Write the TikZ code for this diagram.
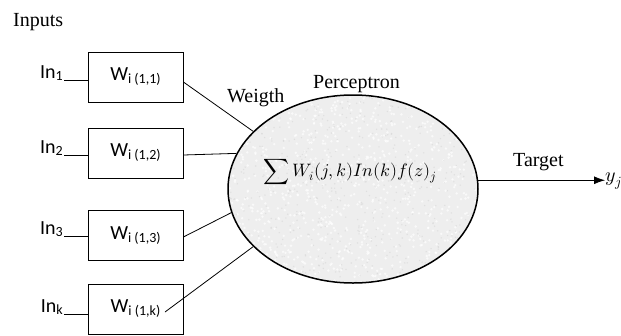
\documentclass[tikz,border=0pt]{standalone}
\usepackage{fontspec}
\usepackage{unicode-math}
\setmainfont{Liberation Serif}
\setmathfont{Latin Modern Math}
\newfontfamily\calib{Carlito}
\usetikzlibrary{shapes.geometric,arrows.meta}
\newcommand\wlab[1]{W\raisebox{-3pt}{\fontsize{14}{14}\selectfont i (1,#1)}}
\newcommand\inlab[1]{In\raisebox{-2.5pt}{\fontsize{14}{14}\selectfont #1}}
\begin{document}
\begin{tikzpicture}[x=1pt,y=-1pt,
  wbox/.style={draw,line width=0.8pt,minimum width=95pt,minimum height=50pt,inner sep=0pt,font=\calib\fontsize{20}{22}\selectfont},
  inlab/.style={inner sep=0pt,anchor=base east,font=\calib\fontsize{20}{22}\selectfont},
  tlab/.style={inner sep=0pt,anchor=base west,font=\fontsize{20}{22}\selectfont},
  conn/.style={line width=0.8pt},
  cell/.style={ellipse,draw,line width=1.5pt,minimum width=250pt,minimum height=188pt,inner sep=0pt}]
\useasboundingbox (0,0) rectangle (621,335);

\node[tlab] (inputs) at (13,26) {Inputs};

\node[wbox] (w1) at (135.5,77) {\wlab{1}};
\node[wbox] (w2) at (135.5,153) {\wlab{2}};
\node[wbox] (w3) at (135.5,235.5) {\wlab{3}};
\node[wbox] (wk) at (135.5,309) {\wlab{k}};

\node[inlab] (l1) at (63,78) {\inlab{1}};
\node[inlab] (l2) at (63,153) {\inlab{2}};
\node[inlab] (l3) at (63,234) {\inlab{3}};
\node[inlab] (lk) at (63,312) {\inlab{k}};

\coordinate (i1) at (64,80);
\coordinate (i2) at (64,155);
\coordinate (i3) at (64,236);
\coordinate (ik) at (64,314);
\draw[conn] (i1) -- (i1 -| w1.west);
\draw[conn] (i2) -- (i2 -| w2.west);
\draw[conn] (i3) -- (i3 -| w3.west);
\draw[conn] (ik) -- (ik -| wk.west);

% textured ellipse fill
\begin{scope}
  \clip (353,189) ellipse [x radius=125pt, y radius=94pt];
  \fill[gray!13] (228,95) rectangle (478,283);
  \pgfmathsetseed{7}
  \foreach \n in {1,...,900}{
    \pgfmathsetmacro\px{228+250*rnd}
    \pgfmathsetmacro\py{95+188*rnd}
    \fill[white,opacity=0.7] (\px,\py) circle[radius=1.3pt];
  }
  \foreach \n in {1,...,600}{
    \pgfmathsetmacro\px{228+250*rnd}
    \pgfmathsetmacro\py{95+188*rnd}
    \fill[gray!35,opacity=0.5] (\px,\py) circle[radius=0.8pt];
  }
\end{scope}
\node[cell] (e) at (353,189) {};
\node[inner sep=0pt,font=\fontsize{18}{20}\selectfont] (f) at (350,172) {$\displaystyle\sum W_i(j,k)In(k)f(z)_j$};

\draw[conn] ([yshift=-5pt]w1.east) -- (e.150.1);
\draw[conn] ([yshift=-2pt]w2.east) -- (e.163.7);
\draw[conn] ([yshift=-1.5pt]w3.east) -- (e.191.1);
\coordinate (kk) at (165,312);
\draw[conn] (kk) -- (e.210.7);

\node[tlab] (weight) at (227,102) {Weigth};
\node[tlab] (perc) at (313,88) {Perceptron};
\node[tlab] (target) at (513,166) {Target};

\node[inner sep=0pt,anchor=west,font=\fontsize{20}{22}\selectfont] (yj) at (605,181) {$y_j$};
\draw[conn,-{Latex[length=11pt,width=8pt]}] (e.4.6) -- (e.4.6 -| yj.west);
\end{tikzpicture}
\end{document}
